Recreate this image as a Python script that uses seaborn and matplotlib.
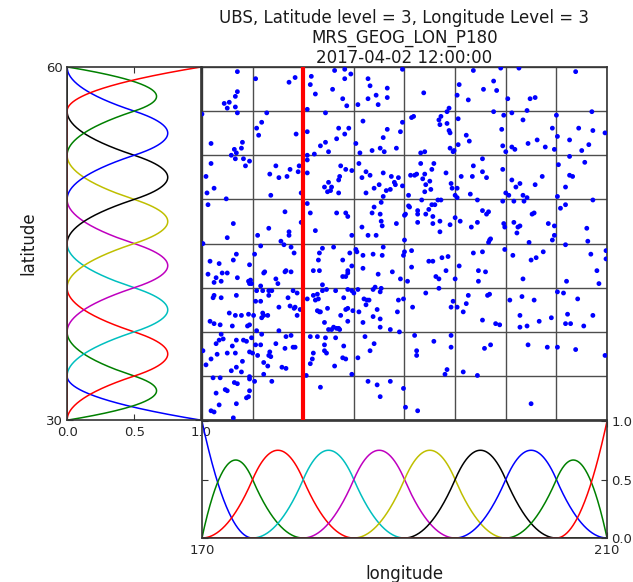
# ============================================
# UBS B-SPLINE BASIS + OBSERVATION LOCATIONS
# ============================================

import numpy as np
import pandas as pd
import matplotlib
matplotlib.use("Agg")
import matplotlib.pyplot as plt
import seaborn as sns

# ============================================
# DATA
# ============================================

title_text = "UBS, Latitude level = 3, Longitude Level = 3\nMRS_GEOG_LON_P180\n2017-04-02 12:00:00"

# knots for level 3 (8 intervals each way), quadratic splines
lon_knots = [170, 175, 180, 185, 190, 195, 200, 205, 210]
lat_knots = [30, 33.75, 37.5, 41.25, 45, 48.75, 52.5, 56.25, 60]
spline_degree = 2

# selected longitude (red line)
lon_mark = 180

basis_colors = ["b", "g", "r", "c", "m", "y", "k", "b", "g", "r"]

obs_lon = [
    173.5, 175.3, 178.6, 179.2, 180.8, 180.7, 181.2, 183.1, 184.1, 184.7, 184.1, 182.9, 183.9, 184.3, 185.4,
    186.4, 186.6, 187.2, 187.4, 186.4, 188.3, 188.3, 189.8, 173.5, 173.3, 172.2, 172.7, 172.5, 173.3, 173.5,
    176.4, 180.4, 182.2, 170.0, 175.9, 175.4, 175.6, 179.3, 180.4, 183.5, 184.5, 184.1, 183.3, 182.2, 181.7,
    182.5, 185.9, 188.3, 187.9, 189.6, 189.8, 185.2, 185.6, 186.8, 187.6, 188.0, 189.2, 170.9, 174.0, 173.9,
    173.2, 173.4, 172.9, 173.3, 174.1, 174.7, 174.3, 170.9, 170.4, 171.2, 170.5, 170.6, 172.4, 173.1, 177.3,
    176.7, 177.6, 178.4, 178.7, 179.6, 179.5, 180.4, 180.4, 181.1, 180.4, 176.8, 178.2, 180.4, 180.7, 181.2,
    175.5, 176.6, 178.6, 178.6, 183.3, 184.2, 184.4, 183.7, 184.2, 184.8, 183.6, 183.5, 182.5, 182.1, 182.8,
    182.4, 182.7, 183.5, 185.5, 186.2, 186.6, 185.8, 186.2, 187.0, 187.5, 187.9, 188.7, 189.4, 189.0, 189.1,
    189.8, 188.6, 188.2, 187.9, 187.7, 187.0, 186.8, 187.6, 187.7, 187.8, 185.8, 186.4, 187.2, 189.2, 190.0,
    190.1, 190.4, 190.5, 190.4, 172.5, 179.8, 179.8, 184.8,
    196.8, 199.5, 201.3, 206.9, 195.4, 191.9, 195.2, 196.3, 197.8, 198.8, 199.1, 200.2, 202.4, 202.9, 194.4,
    194.2, 195.3, 198.8, 199.8, 200.6, 202.1, 201.7, 205.0, 204.6, 205.1, 206.3, 207.2, 208.5, 208.6, 209.8,
    190.7, 190.9, 193.4, 193.6, 193.5, 194.2, 194.4, 194.5, 196.1, 196.4, 195.3, 194.9, 194.8, 194.5, 199.6,
    199.7, 200.0, 200.6, 200.9, 202.2, 203.1, 203.9, 204.8, 207.5, 208.2, 207.8, 206.3, 205.2, 191.6, 192.0,
    191.6, 192.9, 192.7, 192.0, 191.2, 191.0, 190.6, 191.8, 192.5, 192.1, 192.6, 192.0, 194.1, 194.6, 194.7,
    195.2, 195.0, 195.2, 197.7, 196.8, 197.7, 198.1, 196.7, 195.6, 196.5, 197.2, 199.7, 200.6, 201.0, 201.4,
    200.0, 200.3, 201.7, 202.1, 201.8, 200.8, 199.7, 202.9, 203.6, 205.1, 205.9, 206.3, 206.6, 208.6, 205.9,
    205.4, 193.3, 193.6, 193.0, 192.7, 191.7, 192.4, 191.3, 191.3, 192.1, 192.8, 193.5, 192.8, 191.3, 194.5,
    195.5, 195.0, 193.5, 196.6, 197.2, 197.7, 198.3, 198.1, 199.8, 199.9, 200.8, 201.2, 201.4, 201.1, 202.6,
    202.8, 204.2, 204.8, 204.8, 208.0, 198.5,
    170.1, 178.1, 178.8, 179.1, 177.8, 175.8, 175.2, 173.4, 173.1, 170.8, 171.7, 174.7, 170.6, 172.0, 172.5,
    173.5, 171.4, 171.2, 171.9, 174.6, 174.8, 174.9, 174.7, 176.1, 176.2, 177.3, 177.5, 178.2, 178.3, 178.8,
    176.6, 176.0, 175.8, 175.4, 175.3, 175.8, 176.9, 176.6, 178.5, 179.0, 179.4, 177.6, 179.1, 178.7, 179.4,
    179.2, 179.7, 176.0, 176.1, 176.5, 175.9, 175.1, 174.6, 174.7, 174.5, 173.9, 173.3, 172.7, 171.2, 171.1,
    171.9, 170.8, 171.2, 171.8, 173.0, 173.4, 171.9, 172.1, 171.7, 171.4, 173.0, 173.4, 174.1, 174.4, 174.9,
    175.3, 175.8, 175.4, 175.9, 177.6, 178.3, 178.8, 179.0, 179.2, 178.2, 177.3, 176.7, 176.6, 176.8, 175.5,
    174.7, 175.0, 176.5, 176.1, 176.1, 177.9, 178.3, 172.9, 173.9, 175.2, 176.9, 174.7, 174.7, 170.1, 170.9,
    170.4, 171.5, 172.5, 173.3, 174.0, 173.4, 171.1, 171.8, 172.3, 172.5, 171.4, 173.2, 173.5, 174.7, 174.6,
    174.4, 173.4, 171.7, 170.9, 171.2, 173.1,
    181.9, 181.6, 181.5, 181.0, 181.6, 183.0, 183.9, 184.6, 185.2, 185.3, 185.9, 186.9, 187.9, 187.8, 187.4,
    184.4, 184.4, 184.2, 184.8, 185.9, 183.9, 188.8, 189.6, 190.3, 189.9, 190.0, 190.7, 190.7, 190.0, 181.9,
    182.3, 181.9, 181.4, 181.0, 180.4, 181.5, 181.2, 183.2, 184.0, 184.4, 184.8, 185.0, 185.4, 186.0, 186.3,
    186.5, 186.9, 187.1, 187.7, 187.6, 186.2, 187.3, 186.9, 187.6, 185.9, 185.5, 184.9, 184.4, 184.2, 184.4,
    183.7, 183.3, 183.0, 183.5, 183.6, 182.8, 182.5, 182.1, 181.6, 181.7, 181.4, 182.4, 180.7, 181.4, 182.2,
    182.1, 183.2, 184.0, 182.3, 182.1, 181.0, 180.9, 180.7, 183.1, 183.9, 184.2, 184.8, 185.4, 186.1, 187.0,
    186.6, 187.6, 188.6, 189.5, 189.3, 189.4, 189.9, 190.8, 191.2, 191.2, 180.3, 181.7, 186.4, 187.3, 187.6,
    188.6, 189.9, 190.1, 191.3,
    191.0, 198.4, 198.3, 202.3, 204.6, 205.9, 208.1, 199.9, 200.7, 202.5, 203.0, 203.7, 196.8, 197.7, 193.7,
    194.3, 192.4, 192.8, 194.1, 195.4, 195.0, 193.1, 193.4, 197.3, 198.0, 197.3, 201.7, 206.0, 208.4, 209.0,
    209.2, 209.9, 209.9, 192.1, 193.4, 194.8, 194.6, 195.2, 195.8, 196.1, 196.3, 198.2, 198.4, 197.7, 199.0,
    199.4, 200.4, 201.6, 202.8, 201.4, 201.4, 202.1, 203.3, 204.5, 205.1, 205.7, 207.1, 206.1, 205.9, 206.4,
    207.7, 208.6, 192.9, 194.6, 194.6, 197.9, 198.5, 202.2, 204.1, 205.1, 206.9, 209.8, 195.8, 197.2, 194.2,
    194.0, 202.5,
]

obs_lat = [
    59.6, 59.0, 58.7, 59.1, 59.2, 58.5, 57.7, 59.7, 59.8, 59.4, 59.0, 58.1, 57.3, 56.7, 56.8,
    59.0, 58.4, 57.6, 56.8, 57.3, 58.2, 57.4, 59.8, 57.9, 57.5, 56.9, 57.0, 56.5, 56.6, 56.1,
    56.1, 56.4, 56.1, 56.0, 55.3, 54.8, 54.2, 54.3, 54.5, 54.8, 54.8, 54.3, 53.9, 53.6, 53.3,
    52.8, 55.4, 54.7, 54.0, 54.5, 55.3, 53.5, 52.7, 52.9, 53.1, 52.8, 53.1, 53.5, 53.6, 53.1,
    53.0, 52.7, 52.5, 52.2, 52.2, 52.0, 51.6, 51.8, 50.7, 49.7, 49.3, 48.3, 48.8, 46.7, 51.6,
    50.9, 50.6, 50.7, 51.3, 51.6, 51.1, 52.5, 52.1, 52.6, 51.0, 49.1, 47.7, 48.4, 47.6, 46.1,
    45.7, 46.3, 46.0, 45.7, 47.6, 47.6, 47.3, 51.6, 51.3, 51.2, 50.7, 50.4, 50.2, 49.8, 49.8,
    49.4, 49.5, 49.3, 51.8, 51.1, 50.8, 50.6, 49.3, 49.7, 50.0, 51.0, 50.7, 50.6, 50.2, 50.0,
    49.9, 49.6, 49.5, 49.0, 48.5, 48.1, 47.6, 47.5, 46.9, 46.5, 46.4, 45.7, 45.7, 46.7, 47.4,
    47.5, 48.2, 48.1, 49.1, 45.5, 49.3, 46.8, 45.7,
    59.7, 59.9, 59.9, 59.6, 58.5, 57.8, 57.6, 57.2, 58.1, 58.8, 58.0, 57.3, 57.3, 57.4, 56.5,
    56.2, 55.6, 56.2, 55.9, 56.1, 56.3, 55.5, 55.9, 54.8, 54.1, 53.8, 54.8, 56.2, 54.6, 54.4,
    55.7, 55.8, 55.5, 55.8, 55.1, 55.2, 54.6, 54.4, 54.2, 53.7, 53.4, 52.9, 52.8, 53.1, 54.7,
    53.3, 52.8, 53.2, 53.0, 53.5, 53.8, 53.2, 53.0, 52.9, 53.4, 51.9, 52.4, 51.7, 52.7, 52.8,
    51.8, 51.8, 51.3, 50.9, 50.9, 50.8, 50.8, 50.5, 50.3, 50.0, 49.6, 49.4, 51.0, 50.1, 49.7,
    49.7, 49.1, 48.9, 52.2, 51.6, 51.1, 50.6, 50.7, 50.7, 49.2, 48.7, 51.3, 50.4, 49.8, 50.1,
    49.3, 49.1, 49.1, 48.9, 48.6, 48.6, 48.6, 50.0, 50.7, 49.0, 49.8, 50.8, 50.7, 48.7, 48.3,
    48.0, 48.7, 48.7, 48.3, 48.3, 48.7, 47.9, 47.8, 47.5, 47.5, 47.3, 46.9, 46.7, 46.8, 46.6,
    46.9, 47.2, 46.0, 46.4, 46.8, 47.8, 47.7, 47.5, 46.7, 46.4, 46.8, 46.4, 46.5, 45.9, 47.5,
    47.6, 46.7, 46.5, 45.7, 46.3, 45.4,
    45.0, 44.9, 44.7, 44.2, 45.2, 44.8, 44.1, 44.1, 43.6, 43.5, 43.3, 43.2, 42.4, 42.5, 42.5,
    42.1, 42.1, 41.7, 41.8, 41.8, 41.9, 41.6, 41.6, 42.5, 42.6, 42.0, 41.6, 42.6, 42.7, 42.6,
    41.0, 41.0, 41.4, 41.0, 40.1, 40.1, 41.0, 40.6, 40.4, 41.0, 40.8, 39.6, 39.5, 39.7, 38.9,
    39.6, 39.4, 39.1, 38.9, 38.9, 38.7, 38.9, 39.0, 38.1, 38.0, 38.9, 38.9, 39.1, 40.6, 40.4,
    40.4, 38.4, 38.2, 38.1, 38.0, 40.6, 37.3, 36.9, 36.8, 36.5, 36.3, 36.8, 36.8, 36.7, 37.0,
    36.4, 36.4, 37.6, 37.3, 37.6, 37.1, 37.2, 36.2, 36.2, 36.1, 36.5, 35.8, 35.5, 35.4, 35.5,
    35.8, 35.7, 34.6, 33.9, 34.9, 34.5, 34.4, 34.2, 34.1, 33.3, 33.3, 33.7, 33.5, 35.9, 35.2,
    34.7, 35.6, 35.7, 35.7, 35.0, 34.5, 33.6, 33.6, 32.6, 32.5, 32.3, 33.2, 33.1, 32.5, 32.0,
    31.9, 31.4, 31.3, 30.8, 30.7, 30.2,
    44.6, 44.2, 43.6, 42.7, 42.7, 44.7, 43.6, 44.2, 44.5, 44.3, 44.0, 44.1, 44.7, 44.0, 42.4,
    42.7, 42.5, 42.2, 43.1, 42.9, 42.2, 42.6, 42.0, 41.8, 44.0, 44.3, 44.4, 43.0, 45.3, 41.5,
    41.1, 41.0, 40.7, 40.6, 40.3, 40.3, 40.2, 41.0, 40.4, 41.1, 41.0, 40.8, 41.1, 40.3, 40.2,
    40.2, 41.1, 41.3, 41.2, 40.9, 39.8, 39.4, 38.8, 38.6, 38.3, 39.2, 39.3, 39.5, 39.4, 38.4,
    38.9, 37.8, 37.9, 37.8, 37.7, 37.7, 37.7, 38.3, 39.2, 39.2, 39.3, 39.5, 37.1, 37.1, 37.0,
    36.4, 37.0, 36.3, 35.7, 35.9, 35.7, 35.2, 34.8, 34.6, 35.3, 35.2, 33.9, 35.3, 37.1, 36.5,
    35.9, 37.9, 37.7, 37.5, 39.2, 40.2, 40.3, 39.6, 35.5, 35.9, 33.8, 32.8, 33.3, 33.0, 32.0,
    33.3, 32.7, 31.1, 30.8,
    37.2, 45.3, 45.1, 45.1, 45.3, 44.9, 45.2, 44.5, 44.0, 43.6, 43.8, 44.3, 44.2, 44.3, 43.8,
    43.9, 43.5, 43.5, 42.7, 43.1, 42.0, 42.2, 42.0, 42.7, 42.6, 41.8, 42.0, 41.8, 44.1, 42.7,
    41.6, 44.4, 43.7, 40.8, 41.2, 40.1, 39.6, 39.6, 39.2, 39.9, 40.6, 40.6, 40.7, 38.5, 38.2,
    38.1, 40.2, 40.5, 40.2, 38.9, 37.9, 38.0, 38.4, 38.7, 40.9, 40.8, 40.3, 39.0, 38.2, 38.2,
    38.0, 38.9, 36.7, 37.2, 36.2, 36.1, 36.4, 36.4, 36.2, 36.2, 36.0, 35.5, 34.1, 33.8, 34.3,
    33.9, 31.4,
]

# ============================================
# B-SPLINE BASIS (COX - DE BOOR)
# ============================================

def bspline_basis(knots, degree, x):
    t = np.r_[[knots[0]] * degree, knots, [knots[-1]] * degree].astype(float)
    B = np.zeros((len(t) - 1, len(x)))
    for i in range(len(t) - 1):
        if t[i] < t[i + 1]:
            B[i] = (x >= t[i]) & (x < t[i + 1])
    last = max(i for i in range(len(t) - 1) if t[i] < t[i + 1])
    B[last, x == t[-1]] = 1.0
    for k in range(1, degree + 1):
        Bn = np.zeros((len(t) - 1 - k, len(x)))
        for i in range(len(t) - 1 - k):
            if t[i + k] > t[i]:
                Bn[i] += (x - t[i]) / (t[i + k] - t[i]) * B[i]
            if t[i + k + 1] > t[i + 1]:
                Bn[i] += (t[i + k + 1] - x) / (t[i + k + 1] - t[i + 1]) * B[i + 1]
        B = Bn
    return B


def basis_frame(knots, degree):
    x = np.linspace(knots[0], knots[-1], 600)
    B = bspline_basis(knots, degree, x)
    rows = []
    for i in range(B.shape[0]):
        rows.append(pd.DataFrame({"pos": x, "value": B[i], "basis": i}))
    return pd.concat(rows, ignore_index=True)


lon_df = basis_frame(lon_knots, spline_degree)
lat_df = basis_frame(lat_knots, spline_degree)
obs_df = pd.DataFrame({"lon": obs_lon, "lat": obs_lat})

# ============================================
# STYLE
# ============================================

sns.set_style("ticks")
plt.rcParams.update({
    "font.family": ["DejaVu Sans"],
    "axes.edgecolor": "0.2",
    "axes.linewidth": 1.2,
    "xtick.direction": "in",
    "ytick.direction": "in",
    "xtick.major.size": 4,
    "ytick.major.size": 4,
    "xtick.color": "0.2",
    "ytick.color": "0.2",
    "xtick.labelcolor": "0.15",
    "ytick.labelcolor": "0.15",
    "xtick.labelsize": 9.5,
    "ytick.labelsize": 9.5,
    "axes.labelsize": 12,
    "axes.labelcolor": "0.1",
})

fig = plt.figure(figsize=(6.33, 5.82), dpi=100)

ax_main = fig.add_axes([0.319, 0.278, 0.640, 0.607])
ax_left = fig.add_axes([0.106, 0.278, 0.212, 0.607])
ax_bot = fig.add_axes([0.319, 0.0756, 0.640, 0.201])
ax_bot.patch.set_alpha(0)

palette = basis_colors

# --------------------------------------------
# MAIN PANEL - OBSERVATIONS
# --------------------------------------------

sns.scatterplot(
    data=obs_df, x="lon", y="lat",
    color="b", s=12, edgecolor="none", linewidth=0,
    ax=ax_main, zorder=3
)

ax_main.axvline(lon_mark, color="r", linewidth=3, zorder=4)

ax_main.set_xlim(lon_knots[0], lon_knots[-1])
ax_main.set_ylim(lat_knots[0], lat_knots[-1])
ax_main.set_xticks(lon_knots)
ax_main.set_yticks(lat_knots)
ax_main.tick_params(length=0, labelbottom=False, labelleft=False)
ax_main.grid(True, color="0.3", linewidth=1.0)
ax_main.set_axisbelow(True)
ax_main.set_xlabel("")
ax_main.set_ylabel("")

ax_main.set_title(title_text, fontsize=12, pad=3, linespacing=1.12, color="0.1")

# --------------------------------------------
# LEFT PANEL - LATITUDE BASIS
# --------------------------------------------

sns.lineplot(
    data=lat_df, x="value", y="pos", hue="basis",
    palette=palette, orient="y", estimator=None, sort=False,
    linewidth=1.1, legend=False, ax=ax_left
)

ax_left.set_xlim(0, 1)
ax_left.set_ylim(lat_knots[0], lat_knots[-1])
ax_left.set_xticks([0.0, 0.5, 1.0])
ax_left.set_xticklabels(["0.0", "0.5", "1.0"])
ax_left.set_yticks([lat_knots[0], lat_knots[-1]])
ax_left.set_yticklabels(["30", "60"])
ax_left.tick_params(axis="x", top=True, pad=4)
ax_left.tick_params(axis="y", right=True, pad=3)
ax_left.set_xlabel("")
ax_left.set_ylabel("latitude", labelpad=6)

# --------------------------------------------
# BOTTOM PANEL - LONGITUDE BASIS
# --------------------------------------------

sns.lineplot(
    data=lon_df, x="pos", y="value", hue="basis",
    palette=palette, estimator=None, sort=False,
    linewidth=1.1, legend=False, ax=ax_bot
)

ax_bot.set_xlim(lon_knots[0], lon_knots[-1])
ax_bot.set_ylim(0, 1)
ax_bot.set_xticks([lon_knots[0], lon_knots[-1]])
ax_bot.set_xticklabels(["170", "210"])
ax_bot.set_yticks([0.0, 0.5, 1.0])
ax_bot.set_yticklabels(["0.0", "0.5", "1.0"])
ax_bot.yaxis.tick_right()
ax_bot.tick_params(axis="y", left=True, right=True, labelleft=False, labelright=True, pad=3)
ax_bot.tick_params(axis="x", top=True, pad=4)
ax_bot.set_ylabel("")
ax_bot.set_xlabel("longitude", labelpad=6)

# ============================================
# SAVE
# ============================================

fig.savefig("out.png", dpi=100)
plt.close(fig)
